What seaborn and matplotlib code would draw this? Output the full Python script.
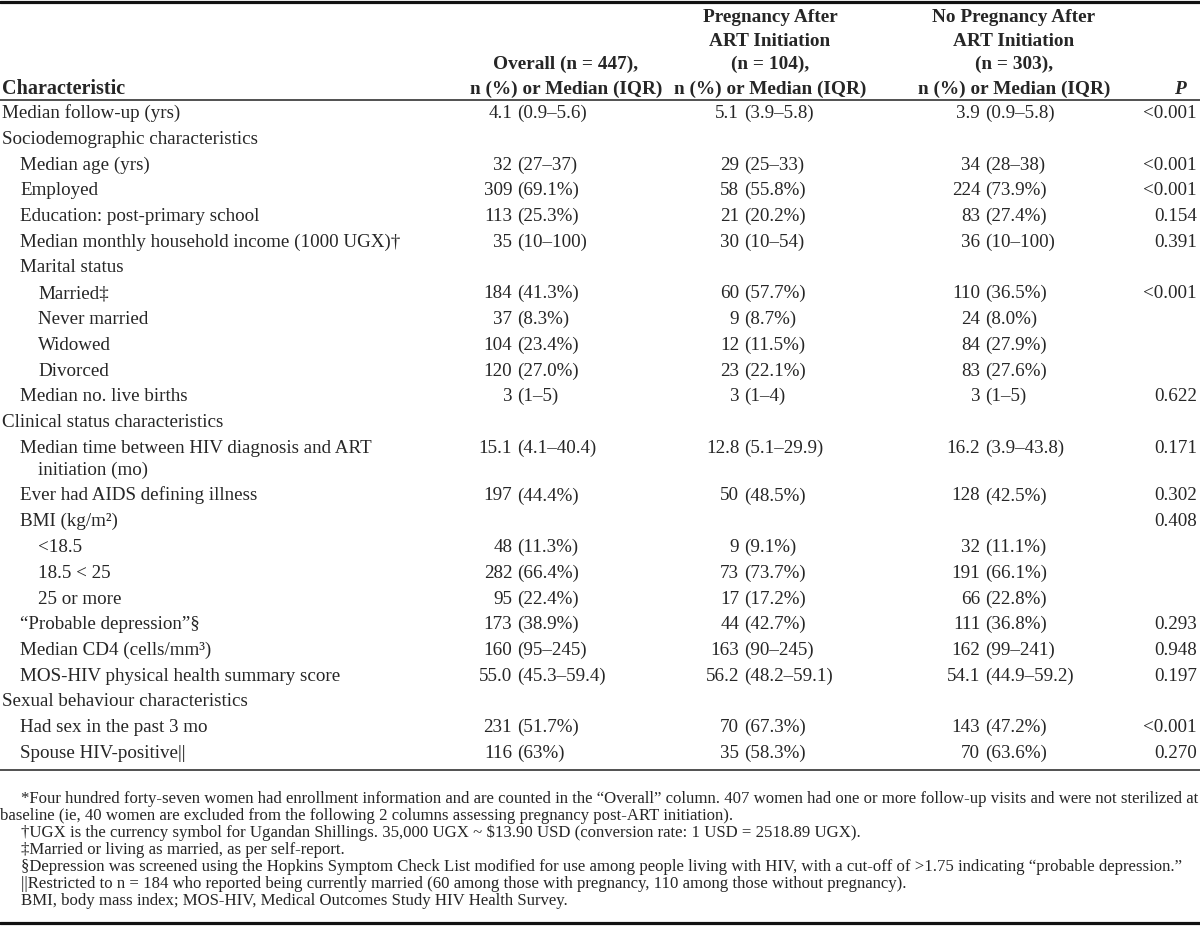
import matplotlib
matplotlib.use("Agg")
import matplotlib.pyplot as plt
import seaborn as sns

# ---------------- data ----------------
characteristics = [
    "Median follow-up (yrs)",
    "Sociodemographic characteristics",
    "Median age (yrs)",
    "Employed",
    "Education: post-primary school",
    "Median monthly household income (1000 UGX)†",
    "Marital status",
    "Married‡",
    "Never married",
    "Widowed",
    "Divorced",
    "Median no. live births",
    "Clinical status characteristics",
    "Median time between HIV diagnosis and ART\ninitiation (mo)",
    "Ever had AIDS defining illness",
    "BMI (kg/m²)",
    "<18.5",
    "18.5 < 25",
    "25 or more",
    "“Probable depression”§",
    "Median CD4 (cells/mm³)",
    "MOS-HIV physical health summary score",
    "Sexual behaviour characteristics",
    "Had sex in the past 3 mo",
    "Spouse HIV-positive||",
]
indent_level = [0, 0, 1, 1, 1, 1, 1, 2, 2, 2, 2, 1, 0, 1, 1, 1, 2, 2, 2, 1, 1, 1, 0, 1, 1]

overall = [
    "4.1 (0.9–5.6)", "", "32 (27–37)", "309 (69.1%)", "113 (25.3%)", "35 (10–100)", "",
    "184 (41.3%)", "37 (8.3%)", "104 (23.4%)", "120 (27.0%)", "3 (1–5)", "",
    "15.1 (4.1–40.4)", "197 (44.4%)", "", "48 (11.3%)", "282 (66.4%)", "95 (22.4%)",
    "173 (38.9%)", "160 (95–245)", "55.0 (45.3–59.4)", "", "231 (51.7%)", "116 (63%)",
]
pregnancy = [
    "5.1 (3.9–5.8)", "", "29 (25–33)", "58 (55.8%)", "21 (20.2%)", "30 (10–54)", "",
    "60 (57.7%)", "9 (8.7%)", "12 (11.5%)", "23 (22.1%)", "3 (1–4)", "",
    "12.8 (5.1–29.9)", "50 (48.5%)", "", "9 (9.1%)", "73 (73.7%)", "17 (17.2%)",
    "44 (42.7%)", "163 (90–245)", "56.2 (48.2–59.1)", "", "70 (67.3%)", "35 (58.3%)",
]
no_pregnancy = [
    "3.9 (0.9–5.8)", "", "34 (28–38)", "224 (73.9%)", "83 (27.4%)", "36 (10–100)", "",
    "110 (36.5%)", "24 (8.0%)", "84 (27.9%)", "83 (27.6%)", "3 (1–5)", "",
    "16.2 (3.9–43.8)", "128 (42.5%)", "", "32 (11.1%)", "191 (66.1%)", "66 (22.8%)",
    "111 (36.8%)", "162 (99–241)", "54.1 (44.9–59.2)", "", "143 (47.2%)", "70 (63.6%)",
]
p_values = [
    "<0.001", "", "<0.001", "<0.001", "0.154", "0.391", "",
    "<0.001", "", "", "", "0.622", "",
    "0.171", "0.302", "0.408", "", "", "",
    "0.293", "0.948", "0.197", "", "<0.001", "0.270",
]

header_overall = ["Overall (n = 447),", "n (%) or Median (IQR)"]
header_preg = ["Pregnancy After", "ART Initiation", "(n = 104),", "n (%) or Median (IQR)"]
header_nopreg = ["No Pregnancy After", "ART Initiation", "(n = 303),", "n (%) or Median (IQR)"]

footnotes = [
    "*Four hundred forty-seven women had enrollment information and are counted in the “Overall” column. 407 women had one or more follow-up visits and were not sterilized at",
    "baseline (ie, 40 women are excluded from the following 2 columns assessing pregnancy post-ART initiation).",
    "†UGX is the currency symbol for Ugandan Shillings. 35,000 UGX ~ \\$13.90 USD (conversion rate: 1 USD = 2518.89 UGX).",
    "‡Married or living as married, as per self-report.",
    "§Depression was screened using the Hopkins Symptom Check List modified for use among people living with HIV, with a cut-off of >1.75 indicating “probable depression.”",
    "||Restricted to n = 184 who reported being currently married (60 among those with pregnancy, 110 among those without pregnancy).",
    "BMI, body mass index; MOS-HIV, Medical Outcomes Study HIV Health Survey.",
]
footnote_indent = [1, 0, 1, 1, 1, 1, 1]

# ---------------- layout ----------------
sns.set_theme(style="white")
plt.rcParams["font.family"] = ["Liberation Serif", "DejaVu Serif"]

W, H = 1200, 926
fig = plt.figure(figsize=(W / 100, H / 100), dpi=100)
ax = fig.add_axes([0, 0, 1, 1])
ax.set_xlim(0, W)
ax.set_ylim(H, 0)
ax.axis("off")

FS = 13.7          # body font size (pt)
HFS = 13.9         # header font size (pt)
BASE = 6           # baseline offset below visual centre (px)
x_indent = [2, 20, 38]
paren_x = [517, 744, 985]
space_px = 4.8
p_right = 1197

# header
hdr_y = [16, 40, 63, 88]
ax.text(2, hdr_y[3] + BASE, "Characteristic", fontsize=HFS + 0.6, fontweight="bold", ha="left", va="baseline")
for line, y in zip(header_overall, hdr_y[2:]):
    ax.text(566, y + BASE, line, fontsize=HFS, fontweight="bold", ha="center", va="baseline")
for line, y in zip(header_preg, hdr_y):
    ax.text(770, y + BASE, line, fontsize=HFS, fontweight="bold", ha="center", va="baseline")
for line, y in zip(header_nopreg, hdr_y):
    ax.text(1014, y + BASE, line, fontsize=HFS, fontweight="bold", ha="center", va="baseline")
ax.text(1180, hdr_y[3] + BASE, "P", fontsize=HFS, fontweight="bold", fontstyle="italic",
        ha="center", va="baseline")

# rules
ax.axhline(1.5, color="#111111", lw=2.3)
ax.axhline(99.5, color="#333333", lw=1.2)
ax.axhline(770, color="#333333", lw=1.2)
ax.axhline(923, color="#111111", lw=2.3)

# body
y0, pitch, wrap_extra = 112, 25.75, 22
extra = 0
for i, label in enumerate(characteristics):
    y = y0 + i * pitch + extra
    parts = label.split("\n")
    lx = x_indent[indent_level[i]]
    ax.text(lx, y + BASE, parts[0], fontsize=FS, ha="left", va="baseline")
    for k, cont in enumerate(parts[1:], start=1):
        ax.text(lx + 18, y + k * wrap_extra + BASE, cont, fontsize=FS, ha="left", va="baseline")
    for col, px in zip((overall, pregnancy, no_pregnancy), paren_x):
        val = col[i]
        if val:
            left, right = val.split(" (", 1)
            ax.text(px - space_px, y + BASE, left, fontsize=FS, ha="right", va="baseline")
            ax.text(px, y + BASE, "(" + right, fontsize=FS, ha="left", va="baseline")
    if p_values[i]:
        ax.text(p_right, y + BASE, p_values[i], fontsize=FS, ha="right", va="baseline")
    extra += (len(parts) - 1) * wrap_extra

# footnotes: fit first line to target width
fig.canvas.draw()
renderer = fig.canvas.get_renderer()
probe = ax.text(0, 0, footnotes[0], fontsize=12)
w = probe.get_window_extent(renderer).width
probe.remove()
fn_fs = 12 * (p_right - 21) / w
fn_y = [798, 815, 832, 849, 866, 883, 900]
for line, ind, y in zip(footnotes, footnote_indent, fn_y):
    ax.text(21 if ind else 0, y + 5, line, fontsize=fn_fs, ha="left", va="baseline")

fig.savefig("out.png", dpi=100, facecolor="white")
